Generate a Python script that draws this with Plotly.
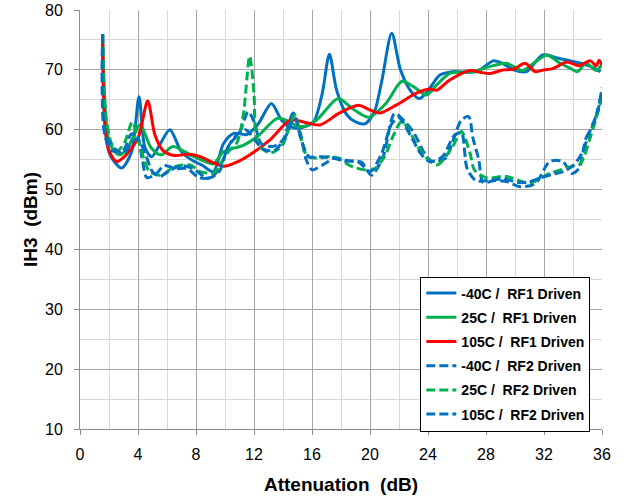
import plotly.graph_objects as go

# -40C / RF1 Driven (blue solid)
x_m40_rf1 = [1.56, 1.72, 2.07, 2.87, 3.56, 4.07, 4.48, 4.94, 5.5, 6.2, 7.0, 7.8, 8.4, 9.2, 9.9,
             10.6, 11.5, 12.3, 13.2, 13.9, 14.5, 15.2, 16.1, 16.7, 17.2, 17.7, 18.4, 19.0, 19.66,
             20.3, 20.8, 21.5, 22.1, 22.8, 23.4, 24.0, 24.8, 25.7, 26.6, 27.4, 28.5, 29.2, 29.9,
             30.8, 31.9, 32.9, 34.0, 35.2, 35.9]
y_m40_rf1 = [75.8, 61.0, 55.8, 53.6, 56.3, 65.5, 57.0, 55.5, 57.5, 60.0, 56.3, 54.8, 54.1, 53.0, 57.7,
             59.4, 59.2, 61.0, 64.4, 61.6, 60.5, 60.3, 61.3, 66.0, 72.6, 66.6, 62.5, 61.3, 61.0,
             63.0, 68.0, 76.1, 70.0, 66.5, 65.2, 66.5, 69.1, 69.7, 69.6, 69.7, 71.5, 71.0, 70.0,
             69.7, 72.5, 72.0, 71.4, 70.6, 69.7]

# 25C / RF1 Driven (green solid)
x_25_rf1 = [1.56, 1.95, 2.41, 2.76, 3.3, 4.14, 4.9, 5.6, 6.4, 7.6, 8.6, 9.2, 9.9, 11.25, 12.2,
            13.6, 14.2, 15.2, 16.3, 17.8, 18.8, 19.9, 21.1, 22.2, 23.0, 23.9, 24.6, 25.5, 26.3,
            27.1, 28.2, 29.4, 30.5, 31.5, 32.2, 33.1, 33.8, 34.3, 34.9, 35.6, 36.0]
y_25_rf1 = [75.8, 58.6, 56.3, 55.8, 57.0, 60.8, 57.0, 55.8, 57.2, 55.8, 54.7, 54.3, 56.3, 57.4, 58.8,
            61.9, 61.6, 60.5, 61.6, 65.2, 63.5, 62.1, 64.4, 68.1, 67.2, 65.8, 67.5, 69.4, 69.6,
            69.7, 70.5, 71.1, 69.9, 71.5, 72.5, 71.1, 70.3, 69.7, 71.1, 69.9, 71.0]

# 105C / RF1 Driven (red solid)
x_105_rf1 = [1.56, 1.94, 2.53, 3.1, 4.0, 4.67, 5.17, 5.7, 6.5, 7.5, 8.3, 9.1, 9.9, 11.0, 11.9,
             13.1, 14.5, 15.4, 16.55, 17.9, 19.2, 20.0, 20.7, 21.8, 23.2, 24.1, 24.6, 25.5, 26.9,
             27.6, 28.3, 29.2, 29.9, 30.7, 31.4, 32.0, 32.6, 33.6, 34.4, 35.2, 35.6, 35.8, 36.0]
y_105_rf1 = [76.0, 56.9, 54.7, 55.6, 58.6, 64.8, 59.1, 56.6, 55.7, 55.9, 55.5, 54.6, 53.9, 54.8, 56.1,
             58.3, 61.6, 61.3, 60.8, 62.8, 64.1, 63.3, 62.8, 64.1, 66.1, 66.8, 66.6, 68.3, 69.9,
             69.6, 69.4, 70.0, 70.1, 71.1, 69.7, 70.0, 70.2, 71.3, 70.7, 71.5, 70.7, 71.6, 70.8]

# -40C / RF2 Driven (blue dashed)
x_m40_rf2 = [1.56, 1.72, 2.2, 3.0, 3.5, 3.9, 4.3, 4.6, 5.2, 5.8, 6.6, 7.4, 8.2, 9.0, 9.6, 10.3,
             11.0, 11.6, 12.0, 12.5, 13.3, 14.0, 14.7, 15.2, 15.6, 16.0, 16.8, 17.6, 18.5, 19.4,
             20.1, 20.9, 21.7, 22.5, 23.0, 23.9, 24.3, 25.2, 25.7, 26.3, 26.8, 27.1, 27.5, 27.8,
             28.6, 29.5, 30.3, 31.4, 32.4, 33.3, 33.9, 34.4, 34.9, 35.4, 36.0]
y_m40_rf2 = [76.0, 59.0, 56.5, 56.6, 59.2, 59.2, 55.0, 52.0, 52.5, 54.0, 53.5, 53.5, 52.0, 52.0, 53.5, 57.5,
             59.5, 63.0, 61.4, 57.7, 57.2, 58.3, 62.8, 59.4, 55.0, 53.3, 54.2, 55.3, 54.8, 54.6,
             52.4, 55.5, 62.7, 61.1, 59.6, 55.5, 54.7, 55.2, 58.0, 61.6, 62.2, 58.6, 55.0, 51.2,
             51.5, 51.3, 50.5, 51.0, 54.7, 54.7, 52.7, 53.5, 58.6, 60.8, 66.5]

# 25C / RF2 Driven (green dashed)
x_25_rf2 = [1.56, 1.8, 2.2, 2.6, 3.1, 3.6, 4.0, 4.4, 4.8, 5.6, 6.5, 7.6, 8.3, 9.2, 9.7, 10.3,
            10.8, 11.25, 11.7, 12.0, 12.1, 12.4, 13.1, 13.9, 14.4, 14.8, 15.2, 15.7, 16.5, 17.5,
            18.8, 20.2, 21.0, 21.6, 22.2, 22.8, 23.45, 24.6, 25.7, 26.3, 26.9, 27.2, 28.0, 29.4,
            31.0, 32.4, 33.8, 34.5, 35.2, 36.0]
y_25_rf2 = [76.0, 62.0, 57.5, 56.5, 58.0, 61.3, 58.4, 55.2, 53.0, 52.4, 53.8, 54.1, 53.0, 52.8, 54.4, 56.5,
            57.7, 62.2, 72.3, 66.0, 60.0, 57.2, 56.1, 57.2, 60.1, 62.5, 58.8, 55.5, 55.3, 55.5,
            53.8, 53.3, 55.5, 59.0, 61.4, 59.4, 56.6, 54.1, 57.2, 59.7, 56.1, 53.3, 52.0, 52.2,
            51.1, 52.7, 53.8, 54.3, 58.8, 65.3]

# 105C / RF2 Driven (blue dashed)
x_105_rf2 = [1.56, 1.72, 2.3, 3.0, 3.6, 4.0, 4.5, 5.0, 5.5, 6.2, 7.0, 7.8, 8.8, 9.6, 10.1, 10.6,
             11.4, 12.0, 12.6, 13.4, 14.2, 14.8, 15.3, 15.8, 16.6, 17.4, 18.2, 19.2, 20.0, 20.8,
             21.5, 22.0, 22.8, 23.5, 24.1, 25.0, 25.8, 26.3, 26.7, 27.3, 28.2, 29.2, 30.2, 31.0,
             31.8, 32.5, 33.3, 34.0, 34.6, 35.2, 35.7, 36.0]
y_105_rf2 = [76.0, 59.5, 57.0, 56.0, 58.0, 58.4, 56.0, 53.0, 52.2, 53.2, 54.0, 53.5, 51.9, 53.0, 56.5, 58.6,
             60.0, 58.5, 56.8, 56.5, 59.0, 62.0, 58.0, 55.5, 55.5, 55.3, 54.8, 54.6, 53.0, 56.0,
             61.0, 62.0, 59.0, 56.0, 54.7, 55.5, 59.0, 59.5, 53.5, 51.5, 51.5, 51.8, 51.2, 51.3,
             52.0, 52.5, 53.0, 54.0, 56.0, 60.0, 63.0, 67.0]

BLUE = "#0070C0"
GREEN = "#00B050"
RED = "#FF0000"
DASH = "9px,4px"

series = [
    ("-40C /\u00a0 RF1 Driven", x_m40_rf1, y_m40_rf1, BLUE, "solid"),
    ("25C /\u00a0 RF1 Driven", x_25_rf1, y_25_rf1, GREEN, "solid"),
    ("105C /\u00a0 RF1 Driven", x_105_rf1, y_105_rf1, RED, "solid"),
    ("-40C /\u00a0 RF2 Driven", x_m40_rf2, y_m40_rf2, BLUE, DASH),
    ("25C /\u00a0 RF2 Driven", x_25_rf2, y_25_rf2, GREEN, DASH),
    ("105C /\u00a0 RF2 Driven", x_105_rf2, y_105_rf2, BLUE, DASH),
]

fig = go.Figure()
for i, (name, xs, ys, color, dash) in enumerate(series):
    fig.add_trace(go.Scatter(
        x=xs, y=ys, name=f"<b>{name}</b>", mode="lines",
        line=dict(color=color, width=3, dash=dash, shape="spline", smoothing=0.8),
        legendgroup=f"g{i}",
    ))

fig.update_layout(
    width=624, height=497,
    margin=dict(l=80, r=22, t=10, b=68),
    plot_bgcolor="white", paper_bgcolor="white",
    font=dict(family="Liberation Sans, Arial", size=16, color="black"),
    showlegend=True,
    legend=dict(
        x=0.652, y=-0.006, xanchor="left", yanchor="bottom",
        bgcolor="white", bordercolor="black", borderwidth=1,
        font=dict(size=14, color="black"),
        tracegroupgap=3, traceorder="grouped",
    ),
)
fig.update_xaxes(
    range=[0, 36], dtick=4, tick0=0, automargin=False,
    showgrid=True, gridcolor="#a6a6a6", gridwidth=1,
    minor=dict(dtick=2, showgrid=True, gridcolor="#d9d9d9"),
    showline=True, linecolor="#8c8c8c", mirror=False,
    ticks="outside", ticklen=5, tickcolor="#8c8c8c", ticklabelstandoff=6,
    zeroline=False,
    title=dict(text="<b>Attenuation\u00a0 (dB)</b>", font=dict(size=19), standoff=15),
)
fig.update_yaxes(
    range=[10, 80], dtick=10, tick0=10, automargin=False,
    showgrid=True, gridcolor="#a6a6a6", gridwidth=1,
    minor=dict(dtick=5, showgrid=True, gridcolor="#d9d9d9"),
    showline=True, linecolor="#8c8c8c",
    ticks="outside", ticklen=5, tickcolor="#8c8c8c", ticklabelstandoff=8,
    zeroline=False,
    title=dict(text="<b>IH3\u00a0 (dBm)</b>", font=dict(size=19), standoff=2),
)

fig.write_html("out.html", config={"displayModeBar": False},
               post_script="document.body.style.margin='0';")
